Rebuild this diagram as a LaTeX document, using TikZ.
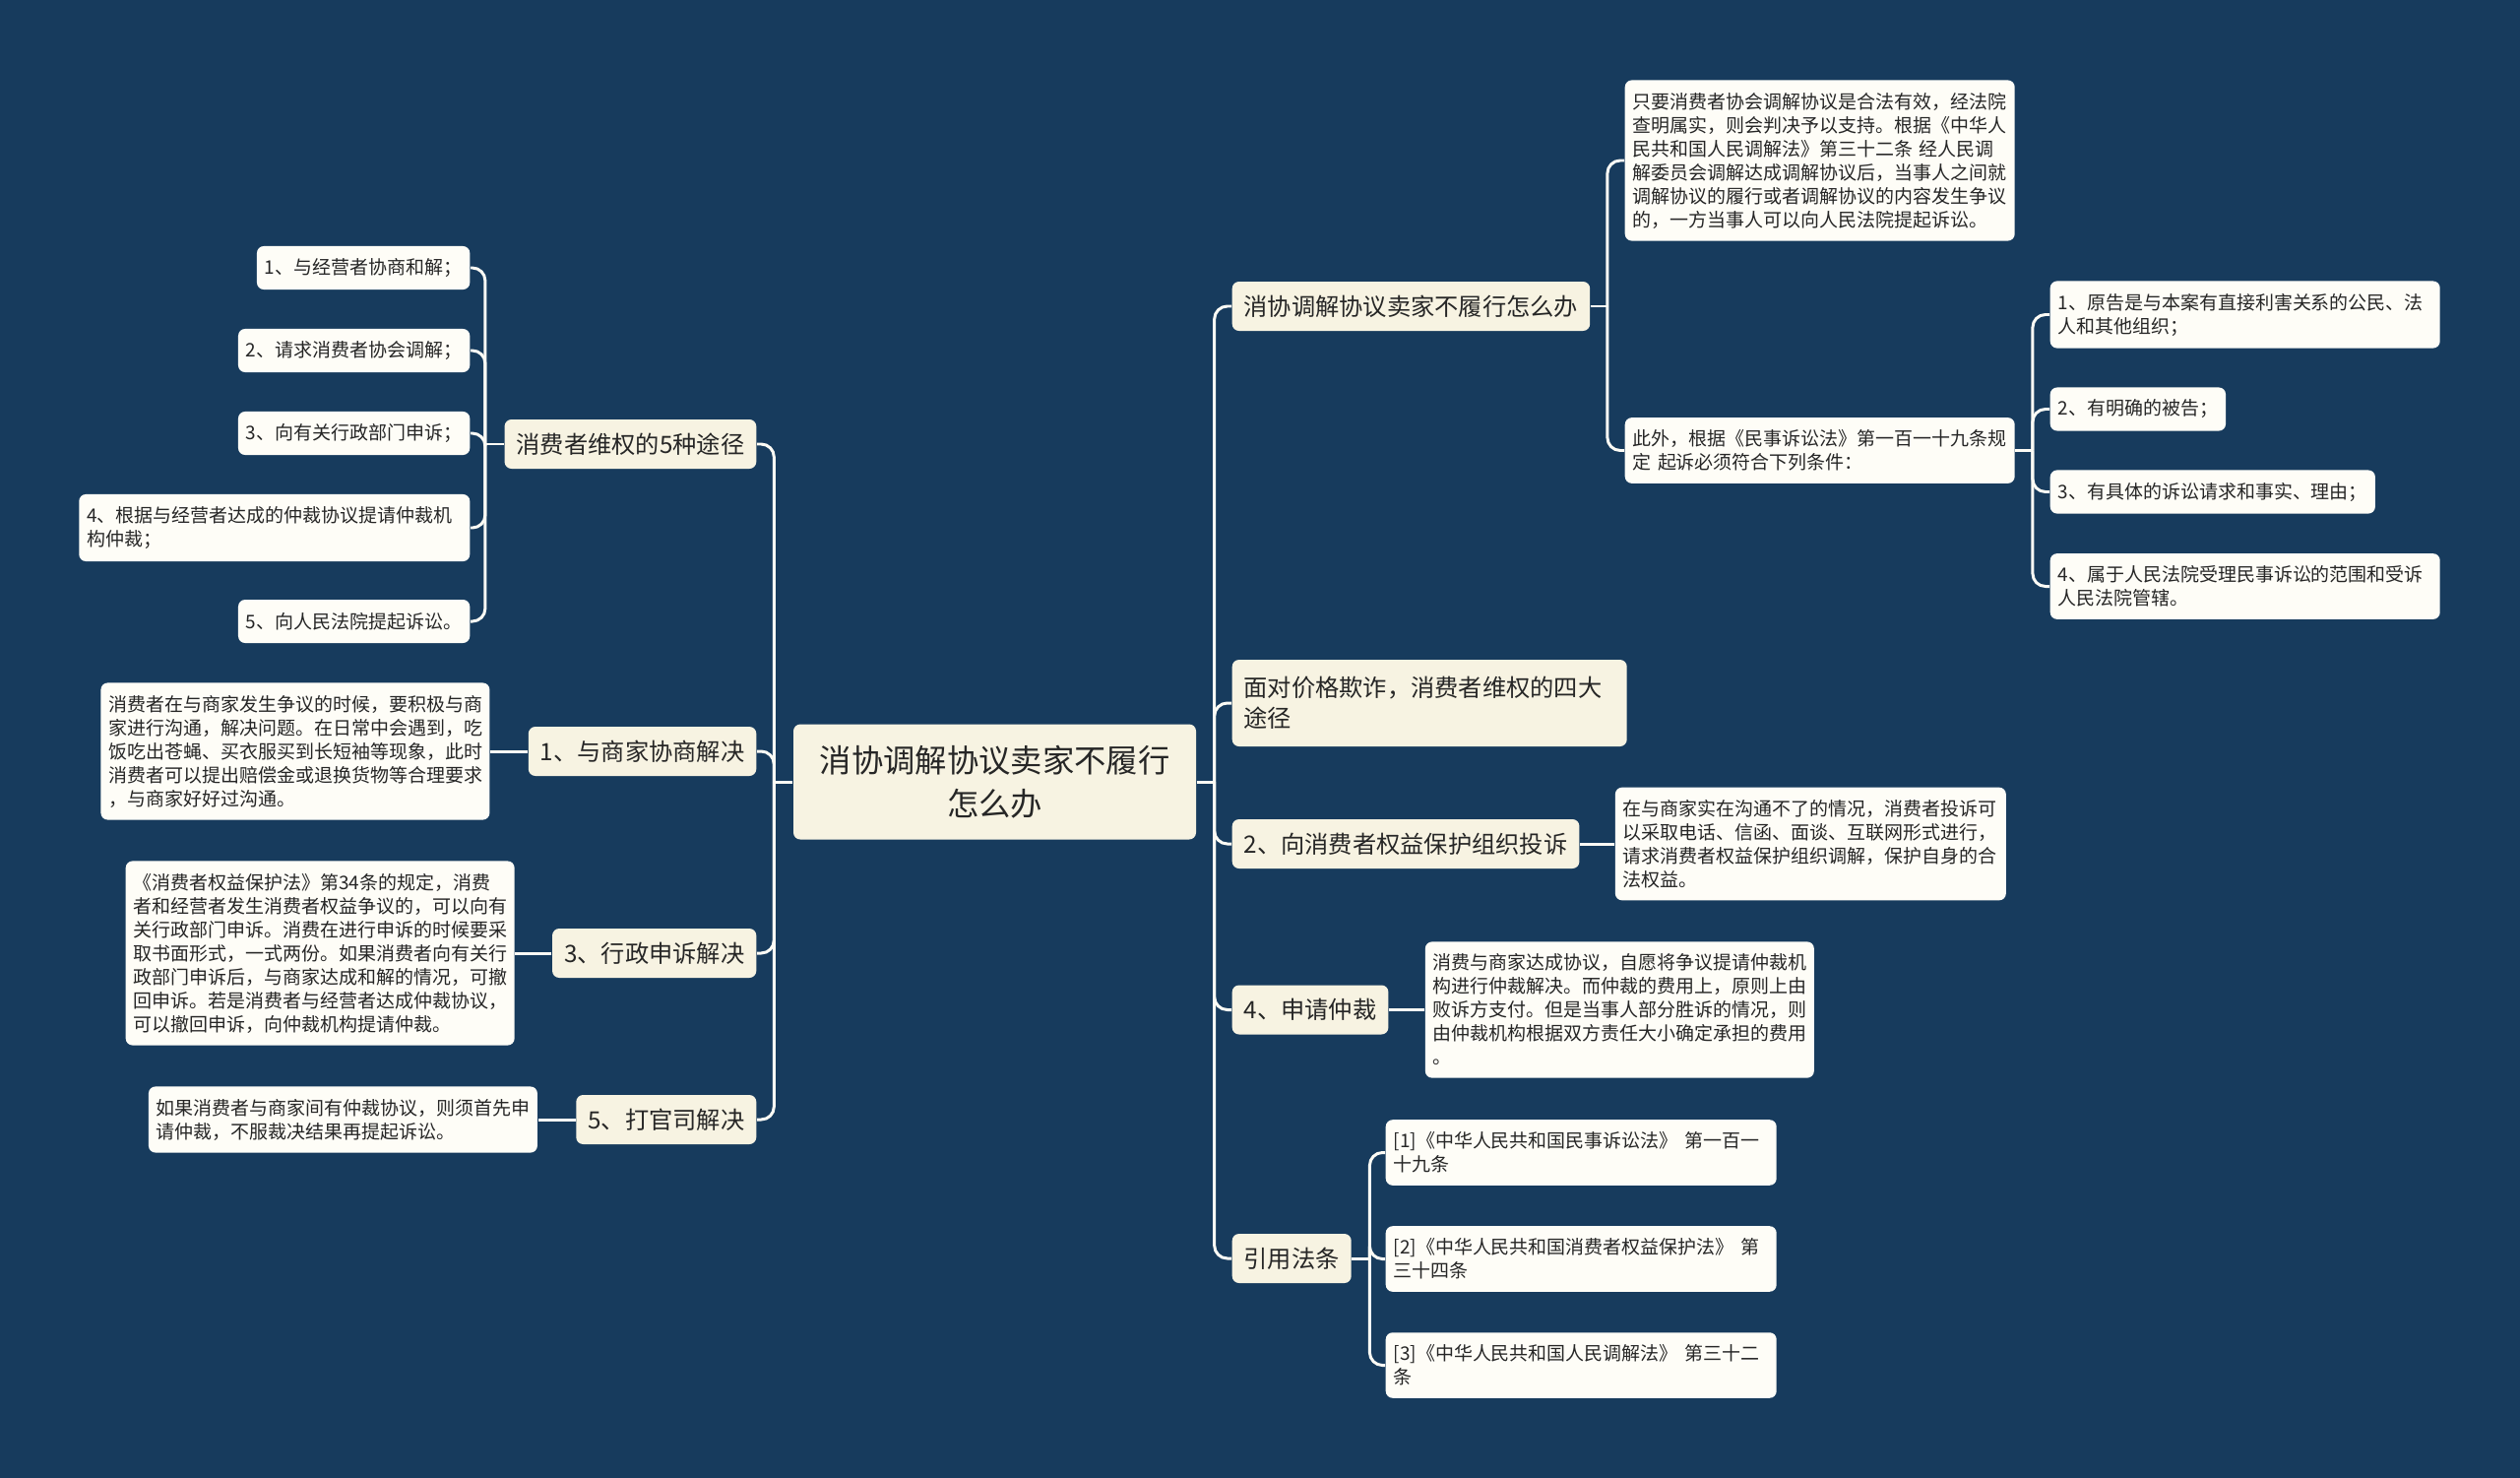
\documentclass[tikz,border=0pt]{standalone}
\usepackage{fontspec}
\setmainfont{Noto Sans CJK SC}
\usepackage{tikz}
\usetikzlibrary{positioning,calc}
\definecolor{bgcol}{RGB}{23,59,93}
\definecolor{topicfill}{RGB}{247,243,226}
\definecolor{leaffill}{RGB}{254,253,247}
\definecolor{linkcol}{RGB}{252,251,245}
\definecolor{inkcol}{RGB}{38,38,38}
\tikzset{
  rootbox/.style={fill=topicfill, rounded corners=0.07cm, text=inkcol, align=center,
    text width=3.80cm, minimum height=1.17cm, inner xsep=0.145cm, inner ysep=0pt,
    font=\fontsize{9.2pt}{12.5pt}\selectfont},
  topicbox/.style={fill=topicfill, rounded corners=0.07cm, text=inkcol,
    inner xsep=0.12cm, inner ysep=0pt, minimum height=0.50cm,
    font=\fontsize{6.9pt}{8.8pt}\selectfont},
  leafbox/.style={fill=leaffill, rounded corners=0.07cm, text=inkcol, align=left,
    inner xsep=0.08cm, inner ysep=0.125cm, minimum height=0.44cm,
    font=\fontsize{5.4pt}{6.83pt}\selectfont},
  link/.style={draw=linkcol, line width=0.85pt, rounded corners=0.13cm},
}

\begin{document}
\begin{tikzpicture}
    \fill[bgcol] (0,0) rectangle (25.60,-15.01);
    \useasboundingbox (0,0) rectangle (25.60,-15.01);
    \node[rootbox] (root) at (10.105,-7.94) {消协调解协议卖家不履行\\怎么办};
    % left side
    \node[topicbox, anchor=east] (ways) at (7.69,-4.51) {消费者维权的5种途径};
    \node[topicbox, anchor=east] (talk) at (7.69,-7.63) {1、与商家协商解决};
    \node[topicbox, anchor=east] (admin) at (7.69,-9.68) {3、行政申诉解决};
    \node[topicbox, anchor=east] (sue) at (7.69,-11.37) {5、打官司解决};
    \node[leafbox, anchor=east] (way1) at (4.78,-2.72) {1、与经营者协商和解；};
    \node[leafbox, anchor=east] (way2) at (4.78,-3.56) {2、请求消费者协会调解；};
    \node[leafbox, anchor=east] (way3) at (4.78,-4.40) {3、向有关行政部门申诉；};
    \node[leafbox, anchor=east, text width=3.81cm] (way4) at (4.78,-5.36)
      {4、根据与经营者达成的仲裁协议提请仲裁机\\构仲裁；};
    \node[leafbox, anchor=east] (way5) at (4.78,-6.31) {5、向人民法院提起诉讼。};
    \node[leafbox, text width=3.79cm, left=0.38cm of talk] (talknote)
      {消费者在与商家发生争议的时候，要积极与商\\家进行沟通，解决问题。在日常中会遇到，吃\\饭吃出苍蝇、买衣服买到长短袖等现象，此时\\消费者可以提出赔偿金或退换货物等合理要求\\，与商家好好过沟通。};
    \node[leafbox, text width=3.79cm, left=0.37cm of admin] (adminnote)
      {《消费者权益保护法》第34条的规定，消费\\者和经营者发生消费者权益争议的，可以向有\\关行政部门申诉。消费在进行申诉的时候要采\\取书面形式，一式两份。如果消费者向有关行\\政部门申诉后，与商家达成和解的情况，可撤\\回申诉。若是消费者与经营者达成仲裁协议，\\可以撤回申诉，向仲裁机构提请仲裁。};
    \node[leafbox, text width=3.79cm, left=0.38cm of sue] (suenote)
      {如果消费者与商家间有仲裁协议，则须首先申\\请仲裁，不服裁决结果再提起诉讼。};
    % right side
    \node[topicbox, anchor=west] (undo) at (12.51,-3.11) {消协调解协议卖家不履行怎么办};
    \node[topicbox, anchor=west, align=left, text width=3.77cm, minimum height=0.88cm]
      (four) at (12.51,-7.14) {面对价格欺诈，消费者维权的四大\\途径};
    \node[topicbox, anchor=west] (org) at (12.51,-8.57) {2、向消费者权益保护组织投诉};
    \node[topicbox, anchor=west] (arb) at (12.51,-10.255) {4、申请仲裁};
    \node[topicbox, anchor=west] (laws) at (12.51,-12.78) {引用法条};
    \node[leafbox, anchor=west, text width=3.80cm] (undo1) at (16.50,-1.63)
      {只要消费者协会调解协议是合法有效，经法院\\查明属实，则会判决予以支持。根据《中华人\\民共和国人民调解法》第三十二条 经人民调\\解委员会调解达成调解协议后，当事人之间就\\调解协议的履行或者调解协议的内容发生争议\\的，一方当事人可以向人民法院提起诉讼。};
    \node[leafbox, anchor=west, text width=3.80cm] (undo2) at (16.50,-4.575)
      {此外，根据《民事诉讼法》第一百一十九条规\\定 起诉必须符合下列条件：};
    \node[leafbox, anchor=west, text width=3.80cm] (cond1) at (20.82,-3.195)
      {1、原告是与本案有直接利害关系的公民、法\\人和其他组织；};
    \node[leafbox, anchor=west] (cond2) at (20.82,-4.155) {2、有明确的被告；};
    \node[leafbox, anchor=west] (cond3) at (20.82,-4.995) {3、有具体的诉讼请求和事实、理由；};
    \node[leafbox, anchor=west, text width=3.80cm] (cond4) at (20.82,-5.955)
      {4、属于人民法院受理民事诉讼的范围和受诉\\人民法院管辖。};
    \node[leafbox, text width=3.81cm, right=0.35cm of org] (orgnote)
      {在与商家实在沟通不了的情况，消费者投诉可\\以采取电话、信函、面谈、互联网形式进行，\\请求消费者权益保护组织调解，保护自身的合\\法权益。};
    \node[leafbox, text width=3.79cm, right=0.36cm of arb] (arbnote)
      {消费与商家达成协议，自愿将争议提请仲裁机\\构进行仲裁解决。而仲裁的费用上，原则上由\\败诉方支付。但是当事人部分胜诉的情况，则\\由仲裁机构根据双方责任大小确定承担的费用\\。};
    \node[leafbox, anchor=west, text width=3.81cm] (law1) at (14.07,-11.705)
      {[1]《中华人民共和国民事诉讼法》 第一百一\\十九条};
    \node[leafbox, anchor=west, text width=3.81cm] (law2) at (14.07,-12.785)
      {[2]《中华人民共和国消费者权益保护法》 第\\三十四条};
    \node[leafbox, anchor=west, text width=3.81cm] (law3) at (14.07,-13.865)
      {[3]《中华人民共和国人民调解法》 第三十二\\条};
    % connectors
    \coordinate (lspine) at ($(root.west)+(-0.19,0)$);
    \coordinate (rspine) at ($(root.east)+(0.18,0)$);
    \draw[link] (root.west) -- (lspine);
    \draw[link] (root.east) -- (rspine);
    \foreach \n in {ways,talk,admin,sue}
      \draw[link] (lspine) |- (\n.east);
    \foreach \n in {undo,four,org,arb,laws}
      \draw[link] (rspine) |- (\n.west);
    \coordinate (wspine) at ($(ways.west)+(-0.19,0)$);
    \draw[link] (ways.west) -- (wspine);
    \foreach \n in {way1,way2,way3,way4,way5}
      \draw[link] (wspine) |- (\n.east);
    \coordinate (uspine) at ($(undo.east)+(0.17,0)$);
    \draw[link] (undo.east) -- (uspine);
    \foreach \n in {undo1,undo2}
      \draw[link] (uspine) |- (\n.west);
    \coordinate (cspine) at ($(undo2.east)+(0.175,0)$);
    \draw[link] (undo2.east) -- (cspine);
    \foreach \n in {cond1,cond2,cond3,cond4}
      \draw[link] (cspine) |- (\n.west);
    \coordinate (fspine) at ($(laws.east)+(0.18,0)$);
    \draw[link] (laws.east) -- (fspine);
    \foreach \n in {law1,law2,law3}
      \draw[link] (fspine) |- (\n.west);
    \draw[link] (talk.west) -- (talknote.east);
    \draw[link] (admin.west) -- (adminnote.east);
    \draw[link] (sue.west) -- (suenote.east);
    \draw[link] (org.east) -- (orgnote.west);
    \draw[link] (arb.east) -- (arbnote.west);
\end{tikzpicture}
\end{document}
